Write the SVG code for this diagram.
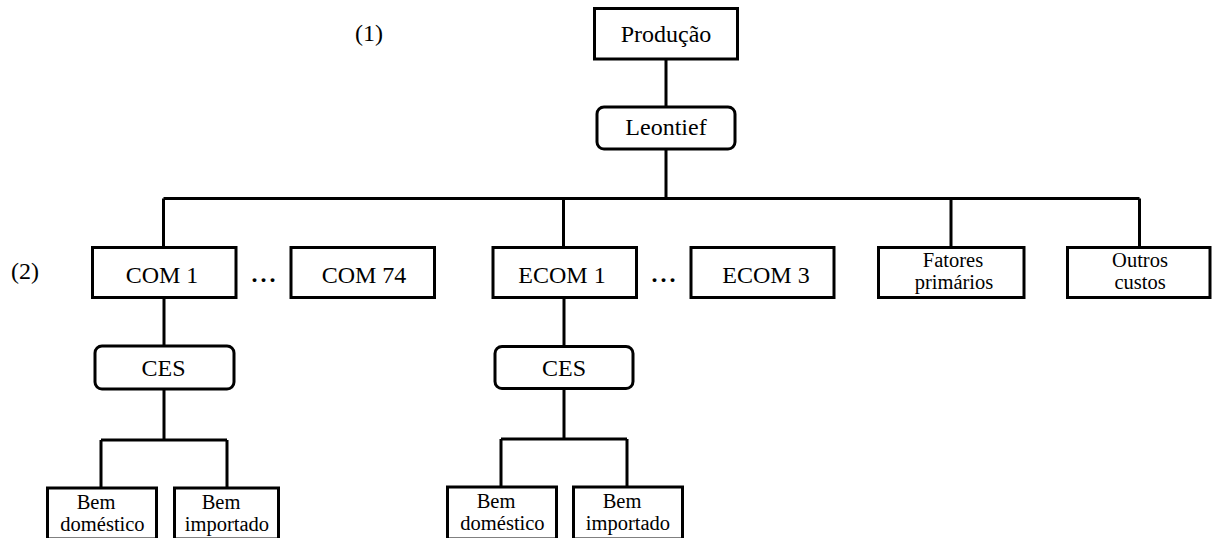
<svg xmlns="http://www.w3.org/2000/svg" width="1212" height="538" viewBox="0 0 1212 538">
<style>
.box{fill:#fff;stroke:#000;stroke-width:3}
.ln{fill:none;stroke:#000;stroke-width:3}
.t24{font-size:24px}
.t20{font-size:20.5px}
.dots{font-size:24px;font-weight:bold;letter-spacing:3px}
</style>
<rect x="0" y="0" width="1212" height="538" fill="#fff"/>
<g id="connectors">
<path class="ln" d="M666 59V107M666 149V198.5M163.5 198.5H1139.5M163.5 198.5V247.5M563.5 198.5V247.5M951 198.5V247.5M1139.5 198.5V247.5"/>
<path class="ln" d="M164 297.5V346M164 389V440M101 440H227M101 440V488M227 440V488"/>
<path class="ln" d="M564 297.5V346.5M564 388.5V439M501 439H627M501 439V487M627 439V487"/>
</g>
<g font-family="'Liberation Serif', 'Times New Roman', 'DejaVu Serif', serif" fill="#000" text-anchor="middle">
<g id="label-1"><text class="t24" x="369" y="41">(1)</text></g>
<g id="label-2"><text class="t24" x="25" y="279">(2)</text></g>
<g id="producao"><rect class="box" x="594.5" y="8.5" width="143" height="50.5"/><text class="t24" x="666" y="42">Produção</text></g>
<g id="leontief"><rect class="box" x="597" y="107" width="138" height="42" rx="7" ry="7"/><text class="t24" x="666" y="135">Leontief</text></g>
<g id="com1"><rect class="box" x="92.5" y="247.5" width="143.5" height="50"/><text class="t24" x="162" y="282.5">COM 1</text></g>
<g id="dots1"><text class="dots" x="265" y="282">...</text></g>
<g id="com74"><rect class="box" x="291" y="247.5" width="143.5" height="50"/><text class="t24" x="364" y="282.5">COM 74</text></g>
<g id="ecom1"><rect class="box" x="493" y="247.5" width="143.5" height="50"/><text class="t24" x="562" y="282.5">ECOM 1</text></g>
<g id="dots2"><text class="dots" x="665" y="282">...</text></g>
<g id="ecom3"><rect class="box" x="691" y="247.5" width="143" height="50"/><text class="t24" x="766" y="282.5">ECOM 3</text></g>
<g id="fatores"><rect class="box" x="878.5" y="247.5" width="145.5" height="50"/><text class="t20" x="953" y="267">Fatores</text><text class="t20" x="954" y="289">primários</text></g>
<g id="outros"><rect class="box" x="1067.5" y="247.5" width="142.5" height="50"/><text class="t20" x="1140" y="267">Outros</text><text class="t20" x="1140" y="289">custos</text></g>
<g id="ces1"><rect class="box" x="95" y="346" width="139" height="43" rx="7" ry="7"/><text class="t24" x="163.5" y="375.5">CES</text></g>
<g id="ces2"><rect class="box" x="495" y="346.5" width="138" height="42" rx="7" ry="7"/><text class="t24" x="564" y="375.5">CES</text></g>
<g id="bem-dom-1"><rect class="box" x="47.5" y="488" width="109" height="51"/><text class="t20" x="96" y="509">Bem</text><text class="t20" x="102.5" y="531">doméstico</text></g>
<g id="bem-imp-1"><rect class="box" x="174.5" y="488" width="104" height="51"/><text class="t20" x="221" y="509">Bem</text><text class="t20" x="227" y="531">importado</text></g>
<g id="bem-dom-2"><rect class="box" x="447.5" y="487" width="109" height="52"/><text class="t20" x="496" y="508">Bem</text><text class="t20" x="502.5" y="530">doméstico</text></g>
<g id="bem-imp-2"><rect class="box" x="573.5" y="487" width="109" height="52"/><text class="t20" x="622" y="508">Bem</text><text class="t20" x="628" y="530">importado</text></g>
</g>
</svg>
